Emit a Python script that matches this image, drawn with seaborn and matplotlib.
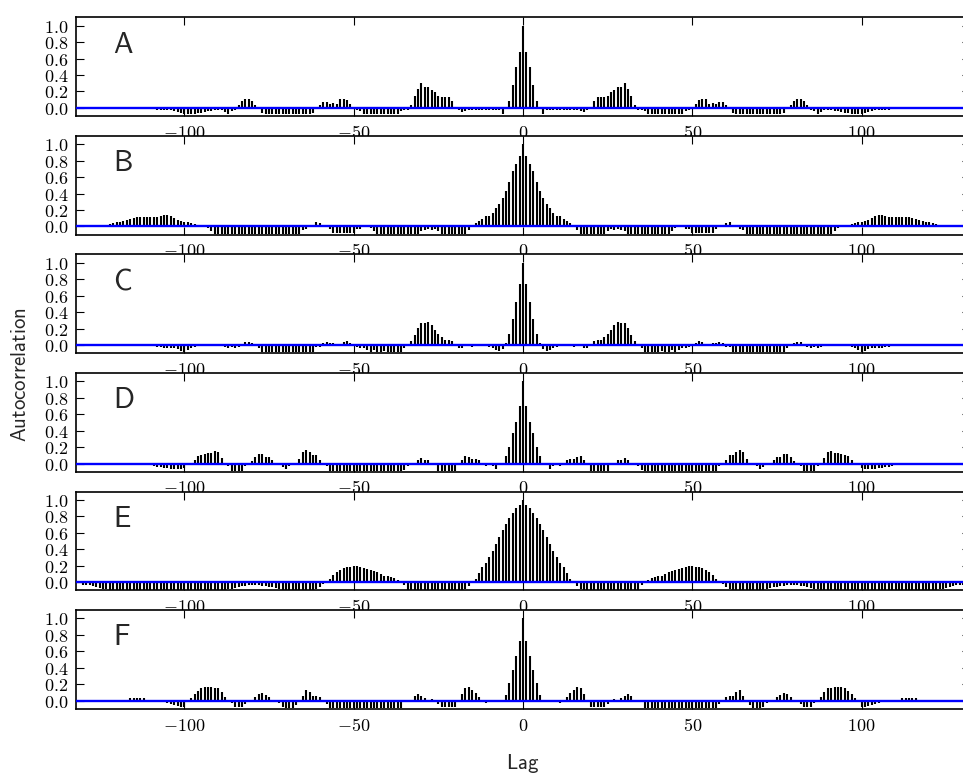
import numpy as np
import matplotlib
matplotlib.use("Agg")
import matplotlib.pyplot as plt
import seaborn as sns
from matplotlib.ticker import FixedLocator, FuncFormatter

# Autocorrelation at lags 0..130 for each series, in hundredths.
# The negative lags mirror these values (the ACF is symmetric).
panel_names = ["A", "B", "C", "D", "E", "F"]

acf_a = [100, 68, 50, 28, 8, 0, -8, -3, -3, -2,
         -3, -3, -2, -3, -3, -2, -3, -4, -5, -3,
         -1, 9, 13, 13, 13, 14, 19, 22, 26, 26,
         30, 23, 15, 3, -2, -3, -4, -7, -8, -8,
         -8, -8, -8, -8, -8, -8, -8, -7, -4, -3,
         0, 5, 10, 11, 11, 5, 6, 5, 7, 7,
         4, 0, -6, -8, -8, -8, -8, -8, -8, -8,
         -8, -8, -8, -8, -8, -8, -8, -6, 0, 4,
         8, 11, 11, 8, 3, -2, -4, -7, -5, -3,
         -3, -3, -4, -4, -5, -6, -6, -7, -7, -7,
         -7, -6, -5, -4, -3, -3, -3, -2, -2, -1,
         0, 0, 0, 0, 0, 0, 0, 0, 0, 0,
         0, 0, 0, 0, 0, 0, 0, 0, 0, 0,
         0]

acf_b = [100, 85, 76, 67, 54, 43, 34, 27, 22, 16,
         13, 13, 9, 7, 4, 1, -4, -9, -9, -9,
         -9, -9, -9, -9, -9, -5, -3, -4, -3, -4,
         -6, -9, -9, -9, -9, -9, -9, -9, -9, -9,
         -9, -9, -9, -9, -5, -2, 0, 0, -3, -3,
         -8, -8, -8, -8, -8, -8, -8, -3, 0, 1,
         4, 6, 2, -1, -3, -4, -9, -9, -9, -9,
         -9, -9, -9, -9, -9, -9, -9, -9, -9, -9,
         -9, -9, -9, -9, -9, -9, -9, -9, -9, -9,
         -9, -9, -5, -2, 0, 1, 2, 3, 4, 5,
         6, 7, 8, 10, 13, 14, 14, 13, 12, 12,
         12, 12, 12, 12, 11, 10, 9, 8, 7, 6,
         5, 4, 3, 2, 1, 1, 0, 0, 0, 0,
         0]

acf_c = [100, 74, 52, 32, 14, 3, -5, -7, -6, -3,
         -2, 0, 0, -1, 0, -2, 0, 0, -4, -3,
         0, 5, 6, 6, 10, 13, 18, 24, 28, 27,
         27, 21, 12, 5, 0, -3, -8, -8, -8, -8,
         -8, -7, -8, -8, -6, -8, -6, -4, -3, -2,
         0, 2, 5, 4, 0, 1, 2, 3, 4, 2,
         -2, -2, -8, -8, -8, -8, -8, -8, -8, -8,
         -8, -8, -8, -8, -8, -8, -8, -8, -3, 1,
         3, 4, 4, 1, -2, -3, -2, -3, -2, 0,
         1, 1, 0, 0, 0, 0, 0, -2, -4, -6,
         -8, -7, -5, -4, -3, -3, -3, -2, -2, -1,
         -1, 0, 0, 0, 0, 0, 0, 0, 0, 0,
         0, 0, 0, 0, 0, 0, 0, 0, 0, 0,
         0]

acf_d = [100, 70, 50, 37, 20, 9, 0, 0, -7, -3,
         0, -3, 1, 4, 6, 6, 8, 9, 4, -2,
         -9, -9, -9, -9, -9, -9, 0, 0, 4, 4,
         7, 5, -1, 0, -3, -8, -9, -9, -9, -9,
         -9, -9, -9, -9, -9, -9, -9, -9, -9, -9,
         -9, -9, -9, -9, -9, -9, -9, -9, -3, 0,
         5, 11, 11, 14, 17, 14, 6, 1, 0, -3,
         -6, -4, 0, 1, 4, 8, 8, 12, 12, 8,
         3, 0, -3, -9, -9, -9, -9, -3, 0, 7,
         14, 15, 13, 13, 12, 11, 9, 5, 1, -2,
         -5, -6, -6, -6, -6, -5, -5, -4, -4, -3,
         -1, 0, 0, 0, 0, 0, 1, 0, 0, 0,
         0, 0, 0, 0, 0, 0, 0, 0, 0, 0,
         0]

acf_e = [100, 94, 90, 84, 78, 71, 63, 55, 46, 38,
         30, 23, 18, 11, 4, 0, -5, -8, -9, -9,
         -9, -9, -9, -9, -9, -9, -9, -9, -9, -9,
         -9, -9, -9, -9, -9, -3, 1, 3, 5, 6,
         7, 8, 10, 12, 13, 15, 16, 17, 19, 20,
         20, 19, 18, 17, 15, 12, 9, 4, 1, -2,
         -6, -8, -9, -9, -9, -9, -9, -9, -9, -9,
         -9, -9, -8, -7, -6, -6, -5, -5, -4, -4,
         -4, -4, -5, -5, -6, -7, -8, -8, -9, -9,
         -9, -9, -9, -9, -9, -9, -9, -9, -9, -9,
         -9, -9, -9, -9, -9, -9, -9, -9, -9, -9,
         -9, -9, -9, -9, -9, -9, -9, -9, -9, -9,
         -9, -9, -9, -8, -8, -7, -6, -5, -4, -4,
         -3]

acf_f = [100, 73, 54, 37, 22, 7, 1, 0, -2, -2,
         -2, -3, 0, 4, 10, 13, 17, 15, 8, 0,
         -8, -8, -8, -8, -8, -4, -1, 2, 1, 3,
         6, 8, 6, 0, 1, -2, -9, -9, -9, -9,
         -9, -9, -9, -9, -9, -9, -9, -9, -9, -9,
         -9, -9, -9, -9, -9, -9, -9, -9, -4, 0,
         4, 6, 6, 11, 13, 6, 0, -5, -9, -9,
         -9, -8, -3, 0, 1, 5, 7, 9, 8, 5,
         1, -2, -4, -8, -8, -8, -3, 0, 4, 11,
         15, 16, 17, 17, 17, 16, 12, 8, 3, 0,
         -7, -7, -6, -5, -4, -3, -2, -1, -1, 0,
         0, 0, 3, 3, 3, 3, 3, 0, 0, 1,
         0, 0, 0, 0, 0, 0, 0, 0, 0, 0,
         0]

series = [acf_a, acf_b, acf_c, acf_d, acf_e, acf_f]

x_ticks = [-100, -50, 0, 50, 100]
y_ticks = [0.0, 0.2, 0.4, 0.6, 0.8, 1.0]

sns.set_theme(style="ticks")
plt.rcParams.update({
    "font.family": ["DejaVu Sans"],
    "mathtext.fontset": "cm",
    "axes.facecolor": "white",
    "figure.facecolor": "white",
    "axes.edgecolor": "black",
    "axes.linewidth": 1.2,
    "xtick.direction": "in",
    "ytick.direction": "in",
    "xtick.top": True,
    "ytick.right": True,
    "xtick.major.size": 6,
    "ytick.major.size": 6,
    "xtick.major.width": 0.8,
    "ytick.major.width": 0.8,
    "xtick.color": "black",
    "ytick.color": "black",
})

fig, axes = plt.subplots(6, 1, figsize=(9.63, 7.81), dpi=100, sharex=False)
fig.subplots_adjust(left=0.0789, right=1.0073, top=0.9778, bottom=0.0922,
                    hspace=0.2)

tick_fmt_x = FuncFormatter(lambda v, _: r"$%d$" % int(round(v)))
tick_fmt_y = FuncFormatter(lambda v, _: r"$%.1f$" % v)

for ax, name, vals in zip(axes, panel_names, series):
    half = np.asarray(vals, dtype=float) / 100.0
    acf = np.concatenate([half[:0:-1], half])
    lags = np.arange(-(len(half) - 1), len(half))

    ax.vlines(lags, 0, acf, colors="black", linewidth=1.5)
    ax.axhline(0, color="#0000ff", linewidth=1.7, zorder=3)

    ax.set_xlim(-132, 132)
    ax.set_ylim(-0.1, 1.1)
    ax.xaxis.set_major_locator(FixedLocator(x_ticks))
    ax.yaxis.set_major_locator(FixedLocator(y_ticks))
    ax.xaxis.set_major_formatter(tick_fmt_x)
    ax.yaxis.set_major_formatter(tick_fmt_y)
    ax.tick_params(axis="both", labelsize=13, pad=5.5)
    ax.grid(False)
    for s in ax.spines.values():
        s.set_visible(True)
        s.set_color("black")

    ax.text(0.041, 0.644, r"$\mathsf{%s}$" % name, transform=ax.transAxes,
            ha="left", va="baseline", fontsize=21)

fig.text(0.021, 0.52, r"$\mathsf{Autocorrelation}$", rotation=90,
         ha="center", va="center", fontsize=15)
fig.text(0.543, 0.023, r"$\mathsf{Lag}$", ha="center", va="center",
         fontsize=15)

fig.savefig("out.png", dpi=100)
